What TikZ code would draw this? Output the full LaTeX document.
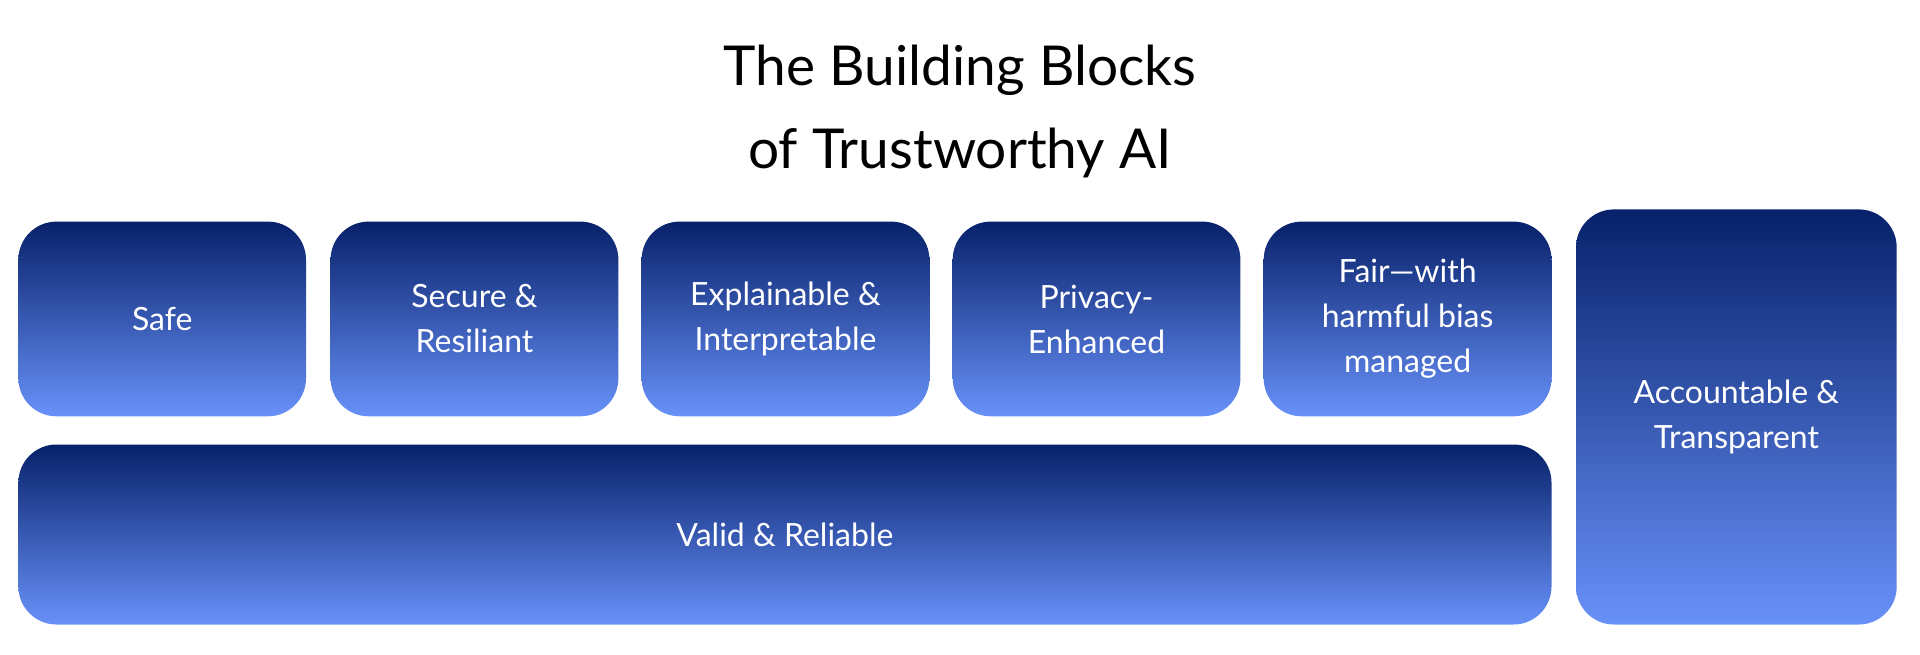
\documentclass[tikz,border=0pt]{standalone}
\usepackage{fontspec}
\setmainfont{Lato}
\definecolor{topc}{HTML}{07216A}
\definecolor{botc}{HTML}{6891F9}
\tikzset{
  block/.style={rounded corners=38pt, top color=topc, bottom color=botc, draw=none},
  blocktext/.style={text=white, align=center, font=\fontsize{32}{45}\selectfont, inner sep=0pt},
}
\begin{document}
\begin{tikzpicture}[x=1pt,y=-1pt]
\useasboundingbox (0,0) rectangle (1920,654);
\node[align=center, font=\fontsize{55}{83}\selectfont] (title) at (960,111) {The Building Blocks\\of Trustworthy AI};
\newcommand{\blk}[6]{%
  \path[block] (#2,#3) rectangle (#4,#5);
  \node[blocktext] (#1) at ({(#2+#4)/2},{(#3+#5)/2}) {#6};
}
\blk{safe}{18.4}{221.6}{306}{416.3}{Safe}
\blk{secure}{330.6}{221.6}{618.4}{416.3}{Secure \&\\Resiliant}
\blk{explain}{641.6}{221.6}{929.4}{416.3}{Explainable \&\\Interpretable}
\blk{privacy}{952.7}{221.6}{1240.4}{416.3}{Privacy-\\Enhanced}
\blk{fair}{1263.7}{221.6}{1551.5}{416.3}{Fair—with\\harmful bias\\managed}
\blk{valid}{18.4}{444.5}{1551.5}{624.5}{Valid \& Reliable}
\blk{account}{1576}{209.4}{1896.7}{624.5}{Accountable \&\\Transparent}
\end{tikzpicture}
\end{document}
